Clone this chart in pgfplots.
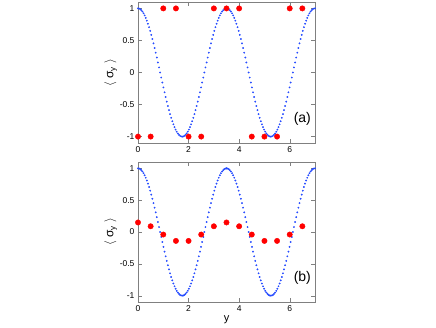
\documentclass[border=0pt]{standalone}
\usepackage{pgfplots}
\pgfplotsset{compat=1.18}
\usepackage{pgfplotstable}
\usepackage{fontspec}
\setmainfont{Liberation Sans}

% one period of the blue curve, sampled every k (x = k*0.04375)
\pgfplotstableread{
k y
0 1
1 0.9969
2 0.9877
3 0.9724
4 0.9511
5 0.9239
6 0.8910
7 0.8526
8 0.8090
9 0.7604
10 0.7071
11 0.6494
12 0.5878
13 0.5225
14 0.4540
15 0.3827
16 0.3090
17 0.2334
18 0.1564
19 0.0785
20 0
21 -0.0785
22 -0.1564
23 -0.2334
24 -0.3090
25 -0.3827
26 -0.4540
27 -0.5225
28 -0.5878
29 -0.6494
30 -0.7071
31 -0.7604
32 -0.8090
33 -0.8526
34 -0.8910
35 -0.9239
36 -0.9511
37 -0.9724
38 -0.9877
39 -0.9969
40 -1
41 -0.9969
42 -0.9877
43 -0.9724
44 -0.9511
45 -0.9239
46 -0.8910
47 -0.8526
48 -0.8090
49 -0.7604
50 -0.7071
51 -0.6494
52 -0.5878
53 -0.5225
54 -0.4540
55 -0.3827
56 -0.3090
57 -0.2334
58 -0.1564
59 -0.0785
60 0
61 0.0785
62 0.1564
63 0.2334
64 0.3090
65 0.3827
66 0.4540
67 0.5225
68 0.5878
69 0.6494
70 0.7071
71 0.7604
72 0.8090
73 0.8526
74 0.8910
75 0.9239
76 0.9511
77 0.9724
78 0.9877
79 0.9969
80 1
}\curve

\pgfplotstableread{
x y
0 -1
0.5 -1
1 1
1.5 1
2 -1
2.5 -1
3 1
3.5 1
4 1
4.5 -1
5 -1
5.5 -1
6 1
6.5 1
}\reda

\pgfplotstableread{
x y
0 0.15
0.5 0.09
1 -0.04
1.5 -0.14
2 -0.14
2.5 -0.04
3 0.09
3.5 0.15
4 0.09
4.5 -0.04
5 -0.14
5.5 -0.14
6 -0.04
6.5 0.09
}\redb

\definecolor{dotblue}{rgb}{0.15,0.3,1}

\pgfplotsset{
  panel/.style={
    width=177pt, height=140pt, scale only axis,
    xmin=0, xmax=7, ymin=-1.1, ymax=1.1,
    xtick={0,2,4,6}, ytick={-1,-0.5,0,0.5,1},
    tick align=inside,
    axis line style={gray},
    major tick style={gray},
    tick label style={font=\fontsize{8.5}{10}\selectfont},
    /pgf/number format/assume math mode=true,
    ylabel={$\big\langle$\;σ\textsubscript{y}\;$\big\rangle$},
    ylabel style={font=\fontsize{12}{14}\selectfont, yshift=-4pt},
    clip=false,
  },
  bluecurve/.style={only marks, mark=*, mark size=0.7pt, color=dotblue},
  reddots/.style={only marks, mark=*, mark size=2.7pt, color=red},
}

\begin{document}
\begin{tikzpicture}
\useasboundingbox (0,0) rectangle (436pt,327pt);
\begin{axis}[panel, at={(138pt,184pt)}, anchor=south west, height=141pt]
  \addplot[bluecurve] table[x expr=\thisrow{k}*0.04375, y=y] {\curve};
  \addplot[bluecurve] table[x expr=\thisrow{k}*0.04375+3.5, y=y] {\curve};
  \addplot[reddots] table[x=x, y=y] {\reda};
  \node[font=\fontsize{14}{16}\selectfont] at (axis cs:6.5,-0.72) {(a)};
\end{axis}
\begin{axis}[panel, at={(138pt,25pt)}, anchor=south west,
  xlabel={y}, xlabel style={font=\fontsize{11}{12}\selectfont, yshift=3pt}]
  \addplot[bluecurve] table[x expr=\thisrow{k}*0.04375, y=y] {\curve};
  \addplot[bluecurve] table[x expr=\thisrow{k}*0.04375+3.5, y=y] {\curve};
  \addplot[reddots] table[x=x, y=y] {\redb};
  \node[font=\fontsize{14}{16}\selectfont] at (axis cs:6.5,-0.72) {(b)};
\end{axis}
\end{tikzpicture}
\end{document}
